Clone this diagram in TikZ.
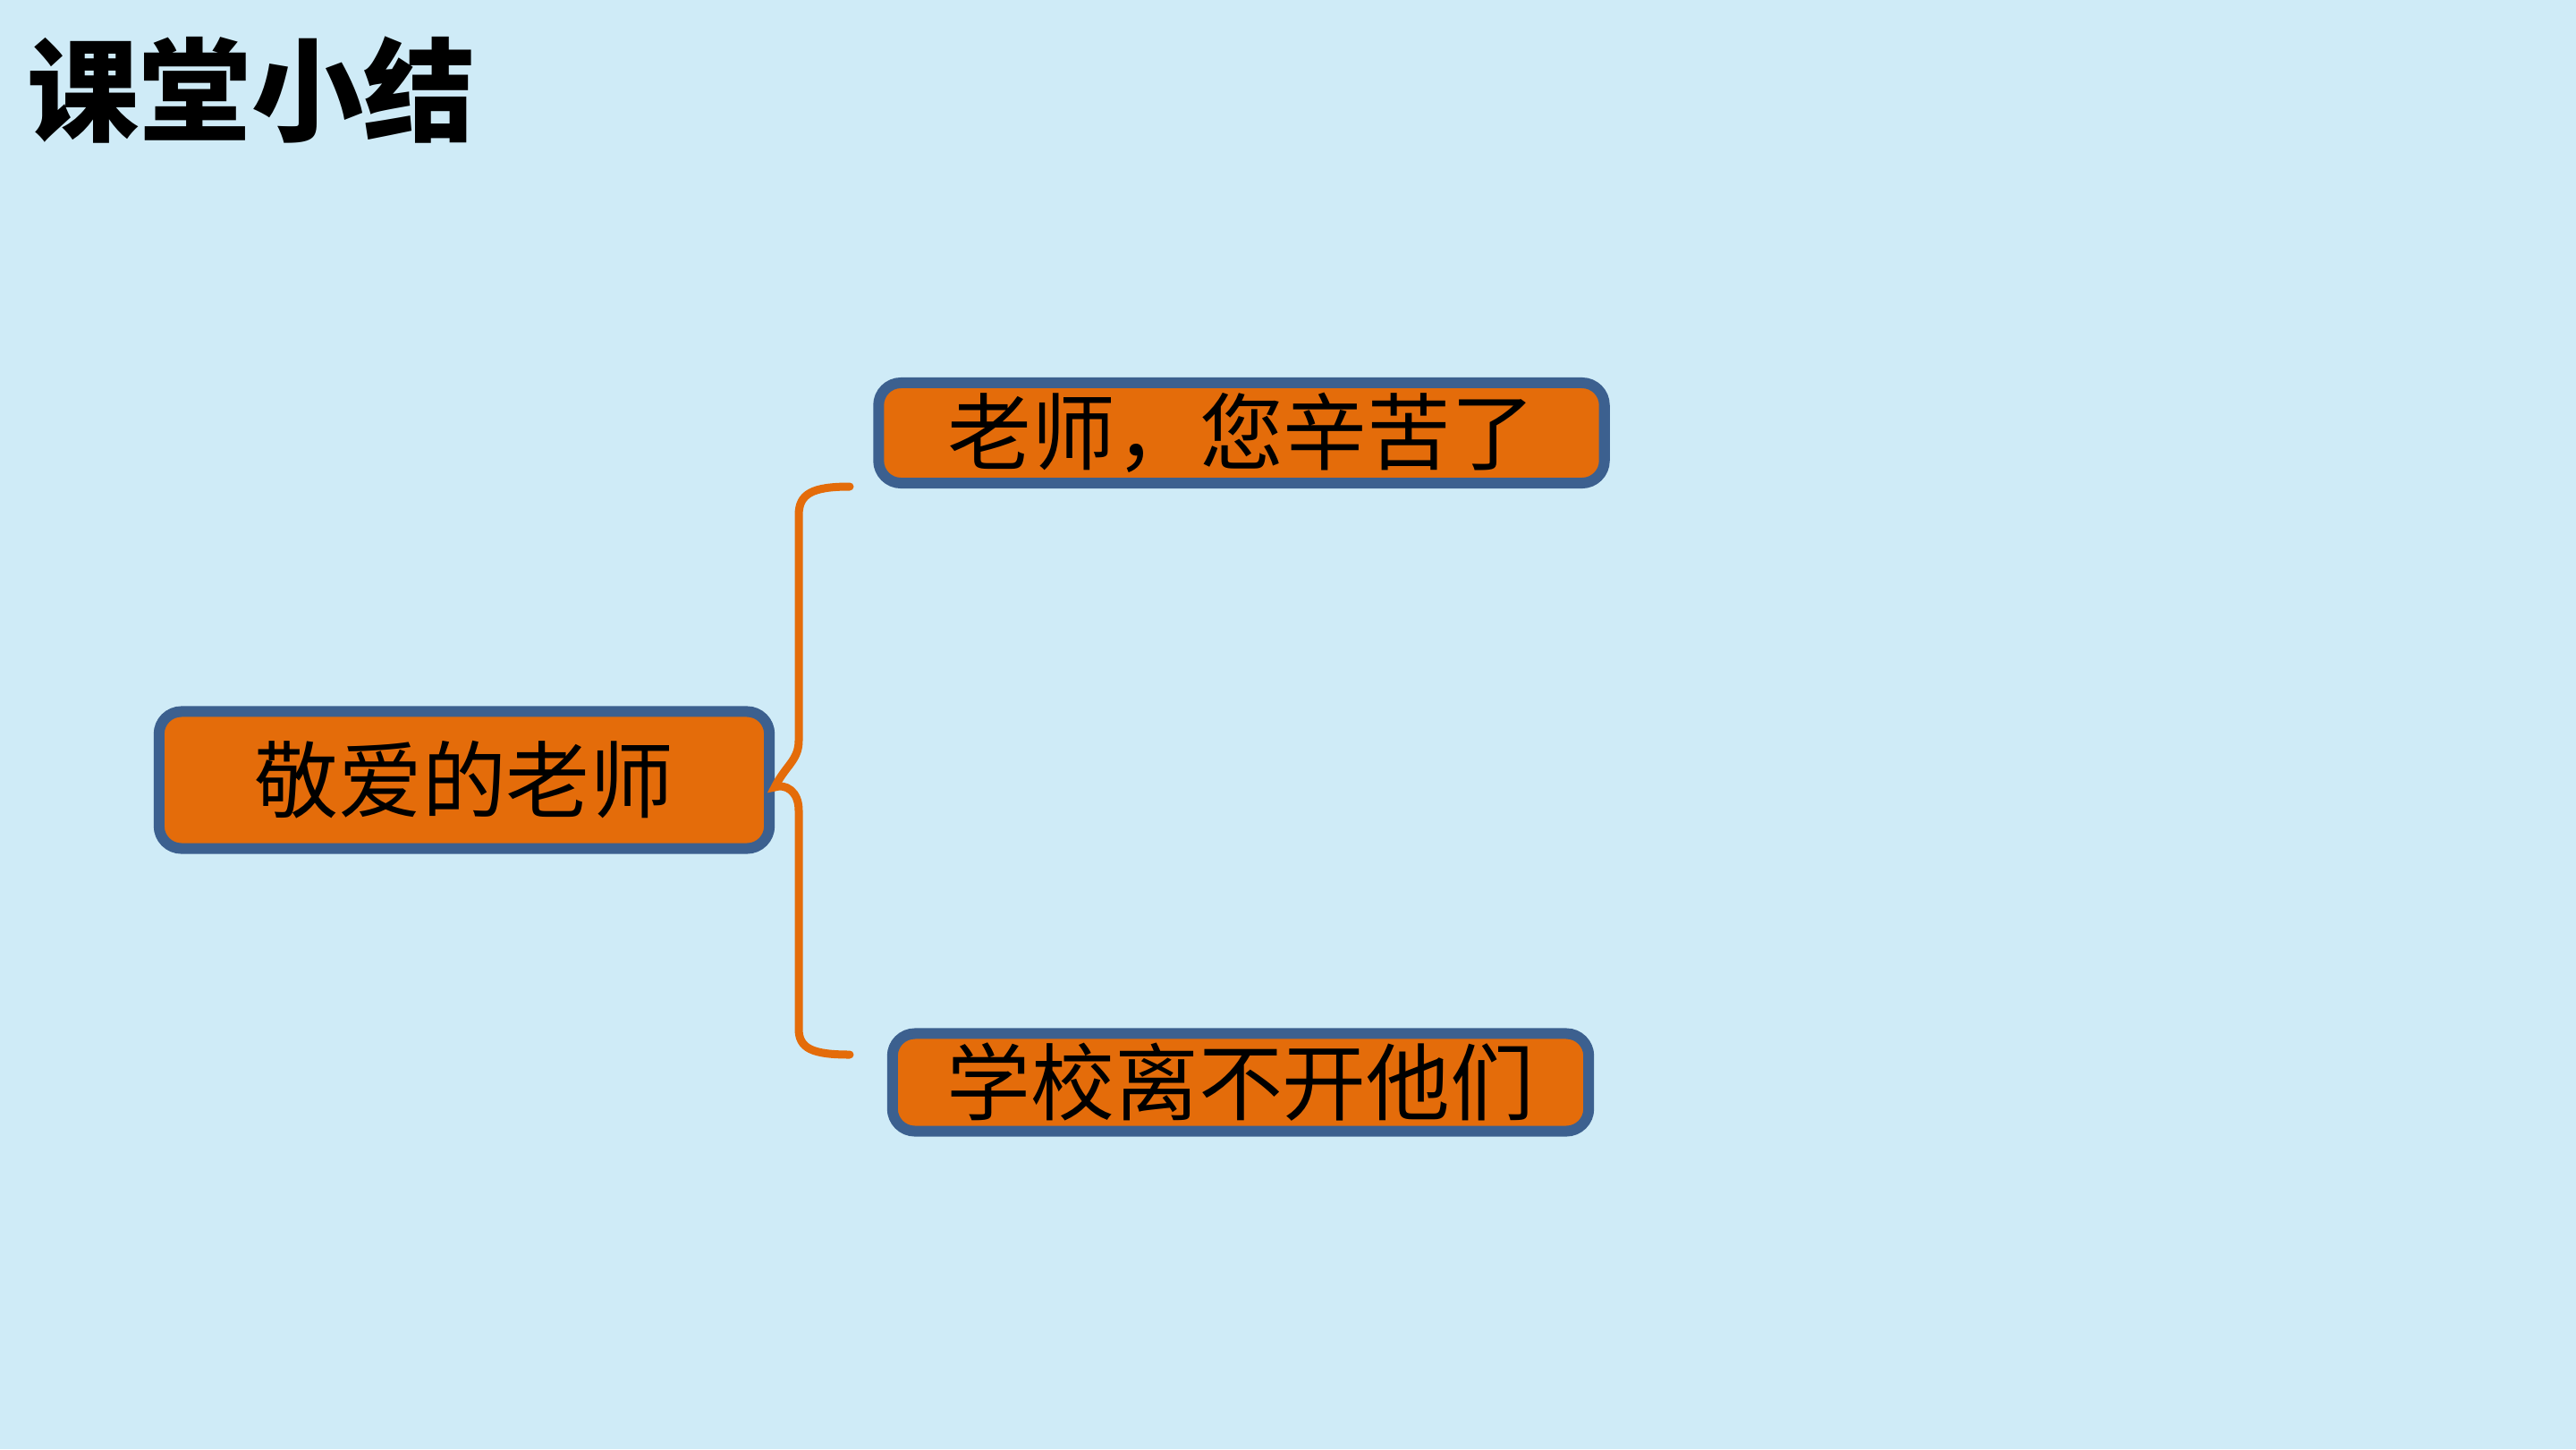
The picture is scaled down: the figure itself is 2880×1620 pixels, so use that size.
\documentclass[tikz,border=0pt]{standalone}
\usepackage{fontspec}
\newfontfamily\cjk{Noto Sans CJK SC}
\definecolor{bgblue}{RGB}{207,235,247}
\definecolor{boxorange}{RGB}{228,108,10}
\definecolor{boxblue}{RGB}{60,96,143}
\tikzset{
  mapbox/.style={draw=boxblue, fill=boxorange, line width=0.12cm, rounded corners=0.25cm,
    inner sep=0pt, align=center, text=black,
    font=\cjk\fontsize{26.7pt}{30pt}\selectfont},
  bracestroke/.style={draw=boxorange, line width=0.09cm, line cap=round}
}
\begin{document}
\begin{tikzpicture}[x=0.01cm,y=-0.01cm]
\useasboundingbox (0,0) rectangle (2880,1620);
\fill[bgblue] (0,0) rectangle (2880,1620);
\node[anchor=west, inner sep=0pt, font=\cjk\bfseries\fontsize{35.6pt}{40pt}\selectfont] (title) at (30,101) {课堂小结};
\node[mapbox, minimum width=6.82cm, minimum height=1.53cm] (L) at (519,872) {\raisebox{-3pt}{敬爱的老师}};
\node[mapbox, minimum width=8.11cm, minimum height=1.12cm] (T) at (1388,484) {\raisebox{-4pt}{老师，您辛苦了}};
\node[mapbox, minimum width=7.78cm, minimum height=1.09cm] (B) at (1387,1210) {\raisebox{-3pt}{学校离不开他们}};
\coordinate (bt) at (950,544);
\coordinate (bb) at (950,1179);
\draw[bracestroke] (bt) .. controls (908,544) and (893,552) .. (893,576) -- (893,828)
  .. controls (893,850) and (878,856) .. ([yshift=-0.08cm]L.east)
  .. controls (878,876) and (893,884) .. (893,906) -- (893,1150)
  .. controls (893,1172) and (908,1179) .. (bb);
\end{tikzpicture}
\end{document}
